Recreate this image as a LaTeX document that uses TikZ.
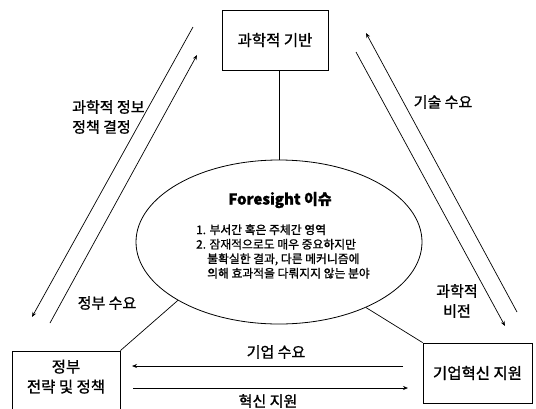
\documentclass[tikz,border=0pt]{standalone}
\usepackage{fontspec}
\setmainfont{Noto Sans CJK KR}[FakeBold=1.2]
\usetikzlibrary{arrows.meta,shapes.geometric}
\begin{document}
\begin{tikzpicture}[x=1pt,y=-1pt,
  box/.style={draw, line width=0.8pt, inner sep=0pt, font=\fontsize{15.5}{20}\selectfont, align=center},
  lbl/.style={font=\fontsize{15}{20}\selectfont, inner sep=0pt},
  arr/.style={-{Stealth[length=5pt,width=4pt]}, line width=0.7pt},
  ln/.style={line width=0.7pt}]
\useasboundingbox (0,0) rectangle (536,408);
% boxes
\node[box, minimum width=106pt, minimum height=60pt] (top) at (275,40) {과학적 기반};
\node[box, minimum width=108pt, minimum height=76pt] (gov) at (66,389) {정부\\전략 및 정책\\\strut};
\node[box, minimum width=109pt, minimum height=60pt] (firm) at (477.5,373) {기업혁신 지원};
% ellipse
\node[draw, ellipse, line width=0.8pt, minimum width=286pt, minimum height=164pt, inner sep=0pt] (ell) at (279,242) {};
\node[font=\bfseries\fontsize{15}{18}\selectfont, inner sep=0pt] (fs) at (280,200) {Foresight 이슈};
\node[anchor=north west, align=flush left, inner sep=0pt, font=\fontsize{11.8}{14.5}\selectfont] (items) at (196,224)
  {1. 부서간 혹은 주체간 영역\\2. 잠재적으로도 매우 중요하지만\\\hspace*{11pt}불확실한 결과, 다른 메커니즘에\\\hspace*{11pt}의해 효과적을 다뤄지지 않는 분야};
% connectors to ellipse
\draw[ln] (ell.north) -- (ell.north |- top.south);
\draw[ln] (ell.210) -- (gov.north east);
\draw[ln] (ell.-37) -- (firm.north west);
% diagonal and horizontal arrows
\coordinate (L1a) at (193,27); \coordinate (L1b) at (32,317);
\coordinate (L2a) at (50,323); \coordinate (L2b) at (197,55);
\coordinate (R1a) at (517,312); \coordinate (R1b) at (366,33);
\coordinate (R2a) at (356,52); \coordinate (R2b) at (505,326);
\coordinate (H1a) at (403,366); \coordinate (H1b) at (132,366);
\coordinate (H2a) at (133,388); \coordinate (H2b) at (408,388);
\draw[arr] (L1a) -- (L1b);
\draw[arr] (L2a) -- (L2b);
\draw[arr] (R1a) -- (R1b);
\draw[arr] (R2a) -- (R2b);
\draw[arr] (H1a) -- (H1b);
\draw[arr] (H2a) -- (H2b);
% labels
\node[lbl, anchor=west] (l1) at (72,107) {과학적 정보};
\node[lbl, anchor=west] (l1b) at (72,127) {정책 결정};
\node[lbl] (l2) at (107,303) {정부 수요};
\node[lbl] (l3) at (443,102) {기술 수요};
\node[lbl, align=center] (l4) at (457,301) {과학적\\비전};
\node[lbl] (l5) at (276,352) {기업 수요};
\node[lbl] (l6) at (268,401) {혁신 지원};
\end{tikzpicture}
\end{document}
